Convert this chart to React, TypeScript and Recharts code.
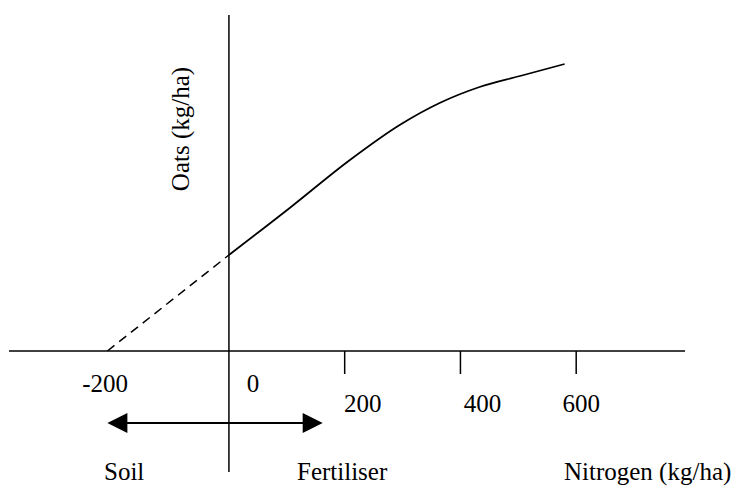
import React from "react"
import { LineChart, Line, XAxis, YAxis, ReferenceLine } from "recharts"

// x axis tick values and their labels
const tickValues = [-200, 0, 200, 400, 600]
const tickLabels = ["-200", "0", "200", "400", "600"]

// response curve: fertiliser nitrogen (kg/ha) vs oats yield (kg/ha)
const fertiliserN = [0, 105, 209, 295, 364, 433, 503, 580]
const oatsYield = [960, 1430, 1910, 2260, 2480, 2640, 2750, 2870]

// dashed extrapolation back to the soil nitrogen supply
const soilN = [-210, 0]
const soilYield = [0, 960]

// soil <-> fertiliser arrow
const arrowSpan = [-210, 162]
const arrowLevel = -720

// vertical axis extent
const oatsAxisRange = [-1210, 3360]

const solidData = fertiliserN.map((x, i) => ({ x, y: oatsYield[i] }))
const dashedData = soilN.map((x, i) => ({ x, y: soilYield[i] }))

const font = '"Liberation Serif", "Times New Roman", serif'

// labels sit a little off their ticks, as in the hand-drawn figure
const labelDx = [-8, 24, 18, 22, 5]

function NitrogenTick(props: any) {
  const { x, y, payload } = props
  const i = tickValues.indexOf(payload.value)
  const positive = payload.value > 0
  return (
    <g>
      {positive && <line x1={x} y1={y} x2={x} y2={y + 23} stroke="#000" strokeWidth={1.5} />}
      <text
        x={x + labelDx[i]}
        y={positive ? y + 61 : y + 41}
        textAnchor="middle"
        fontFamily={font}
        fontSize={25}
        fill="#000"
      >
        {tickLabels[i]}
      </text>
    </g>
  )
}

function ArrowShape(props: any) {
  const { x1, y1, x2, y2 } = props
  const head = 20
  const half = 10
  return (
    <g>
      <line x1={x1 + head - 2} y1={y1} x2={x2 - head + 2} y2={y2} stroke="#000" strokeWidth={2} />
      <polygon points={`${x1},${y1} ${x1 + head},${y1 - half} ${x1 + head},${y1 + half}`} fill="#000" />
      <polygon points={`${x2},${y2} ${x2 - head},${y2 - half} ${x2 - head},${y2 + half}`} fill="#000" />
    </g>
  )
}

const textStyle: React.CSSProperties = {
  position: "absolute",
  fontFamily: font,
  fontSize: 25,
  lineHeight: "25px",
  whiteSpace: "nowrap",
  color: "#000",
}

export default function App() {
  return (
    <div style={{ position: "absolute", left: 0, top: 0, width: 741, height: 488, background: "#fff" }}>
      <LineChart width={741} height={488} margin={{ top: 15, right: 56, bottom: 136, left: 9 }}>
        <XAxis
          type="number"
          dataKey="x"
          domain={[-380, 788]}
          allowDataOverflow
          ticks={tickValues}
          interval={0}
          height={1}
          tickSize={0}
          tickMargin={0}
          tickLine={false}
          axisLine={{ stroke: "#000", strokeWidth: 1.5 }}
          tick={<NitrogenTick />}
        />
        <YAxis type="number" dataKey="y" domain={[0, 3360]} allowDataOverflow hide />
        <ReferenceLine
          segment={[
            { x: 0, y: oatsAxisRange[0] },
            { x: 0, y: oatsAxisRange[1] },
          ]}
          ifOverflow="visible"
          stroke="#000"
          strokeWidth={1.5}
        />
        <ReferenceLine
          segment={[
            { x: arrowSpan[0], y: arrowLevel },
            { x: arrowSpan[1], y: arrowLevel },
          ]}
          ifOverflow="visible"
          shape={ArrowShape}
        />
        <Line
          data={dashedData}
          dataKey="y"
          type="linear"
          stroke="#000"
          strokeWidth={1.5}
          strokeDasharray="9 6"
          dot={false}
          isAnimationActive={false}
        />
        <Line
          data={solidData}
          dataKey="y"
          type="monotone"
          stroke="#000"
          strokeWidth={1.8}
          dot={false}
          isAnimationActive={false}
        />
      </LineChart>
      <div style={{ ...textStyle, left: 180, top: 129, transform: "translate(-50%, -50%) rotate(-90deg)" }}>
        Oats (kg/ha)
      </div>
      <div style={{ ...textStyle, left: 104, top: 459 }}>Soil</div>
      <div style={{ ...textStyle, left: 297, top: 459 }}>Fertiliser</div>
      <div style={{ ...textStyle, left: 564, top: 459 }}>Nitrogen (kg/ha)</div>
    </div>
  )
}
